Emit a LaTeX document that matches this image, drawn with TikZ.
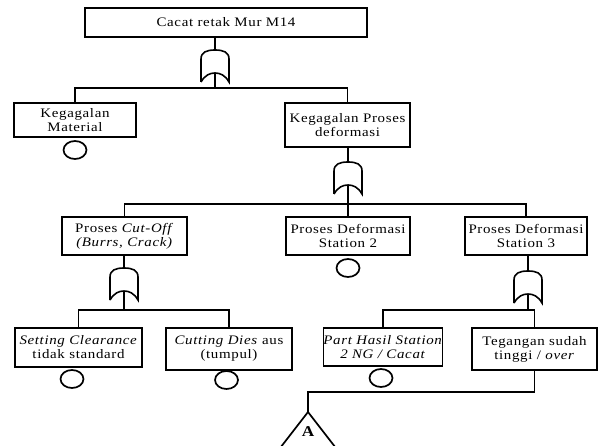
\documentclass[tikz,border=0pt]{standalone}
\usepackage{fontspec}
\setmainfont[LetterSpace=5, FakeStretch=1.15]{Liberation Serif}
\usetikzlibrary{shapes.geometric,calc}

\tikzset{
	evento/.style={draw, line width=1.7pt, inner sep=0pt, align=center,
		font=\fontsize{13}{14}\selectfont},
	basico/.style={draw, ellipse, line width=1.7pt, inner sep=0pt,
		minimum width=23pt, minimum height=18pt},
	% compuerta OR, (0,0) arriba, (0,23) abajo
	puertaor/.pic={
		\draw[line width=1.6pt] (-14,32) -- (-14,9) .. controls (-14,2) and (-8,0) .. (0,0)
			.. controls (8,0) and (14,2) .. (14,9) -- (14,32)
			.. controls (10,25) and (5,23) .. (0,23)
			.. controls (-5,23) and (-10,25) .. (-14,32);
		\coordinate (-in) at (0,0);
		\coordinate (-out) at (0,23);
	}
}

\begin{document}
\begin{tikzpicture}[x=1pt, y=-1pt, line width=1.7pt]
	\useasboundingbox (0,0) rectangle (599,446);
	\clip (0,0) rectangle (599,446);
	
	\node[evento, minimum width=282pt, minimum height=29pt] (top) at (226,22.5) {Cacat retak Mur M14};
	\node[evento, minimum width=122pt, minimum height=34pt] (mat) at (75,120) {Kegagalan\\Material};
	\node[evento, minimum width=125pt, minimum height=44pt] (def) at (347.5,125) {Kegagalan Proses\\deformasi};
	\node[evento, minimum width=125pt, minimum height=38pt] (cut) at (124.5,236) {Proses \textit{Cut-Off}\\\textit{(Burrs, Crack)}};
	\node[evento, minimum width=124pt, minimum height=38pt] (st2) at (348,236) {Proses Deformasi\\Station 2};
	\node[evento, minimum width=122pt, minimum height=38pt] (st3) at (526,236) {Proses Deformasi\\Station 3};
	\node[evento, minimum width=127pt, minimum height=39pt] (set) at (78.5,347.5) {\textit{Setting Clearance}\\tidak standard};
	\node[evento, minimum width=126pt, minimum height=42pt] (die) at (229,349) {\textit{Cutting Dies} aus\\(tumpul)};
	\node[evento, minimum width=118pt, minimum height=38pt] (part) at (383,347) {\textit{Part Hasil Station}\\\textit{2 NG / Cacat}};
	\node[evento, minimum width=125pt, minimum height=42pt] (teg) at (534.5,349) {Tegangan sudah\\tinggi / \textit{over}};
	
	% eventos basicos
	\node[basico] (mat-b) at (75,150) {};
	\node[basico] (st2-b) at (348,268) {};
	\node[basico] (set-b) at (72,379) {};
	\node[basico] (die-b) at (226.5,380) {};
	\node[basico] (part-b) at (381,378) {};
	
	\pic (g0) at (215,50) {puertaor};
	\pic (g1) at (348,162) {puertaor};
	\pic (g2) at (124,268) {puertaor};
	\pic (g3) at (528,271) {puertaor};
	
	\coordinate (b0) at (215,88);
	\coordinate (b1) at (348,204);
	\coordinate (b2) at (124,310);
	\coordinate (b3) at (528,310);
	
	\draw (g0-in |- top.south) -- (g0-in);
	\draw (g0-out) -- (b0);
	\draw (mat.north) |- (b0) -| (def.north);
	
	\draw (g1-in |- def.south) -- (g1-in);
	\draw (g1-out) -- (b1);
	\draw (cut.north) |- (b1) -| (st3.north);
	\draw (st2.north) -- (st2.north |- b1);
	
	\draw (g2-in |- cut.south) -- (g2-in);
	\draw (g2-out) -- (b2);
	\draw (set.north) |- (b2) -| (die.north);
	
	\draw (g3-in |- st3.south) -- (g3-in);
	\draw (g3-out) -- (b3);
	\draw (part.north) |- (b3) -| (teg.north);
	
	% transferencia
	\coordinate (tA) at (308,412);
	\node[font=\fontsize{15}{16}\selectfont\bfseries] (A) at (308,432) {A};
	\draw (teg.south) -- ++(0,21) -| (tA);
	\draw ($(tA)+(-31,40)$) -- (tA) -- ($(tA)+(31,40)$);
\end{tikzpicture}
\end{document}
